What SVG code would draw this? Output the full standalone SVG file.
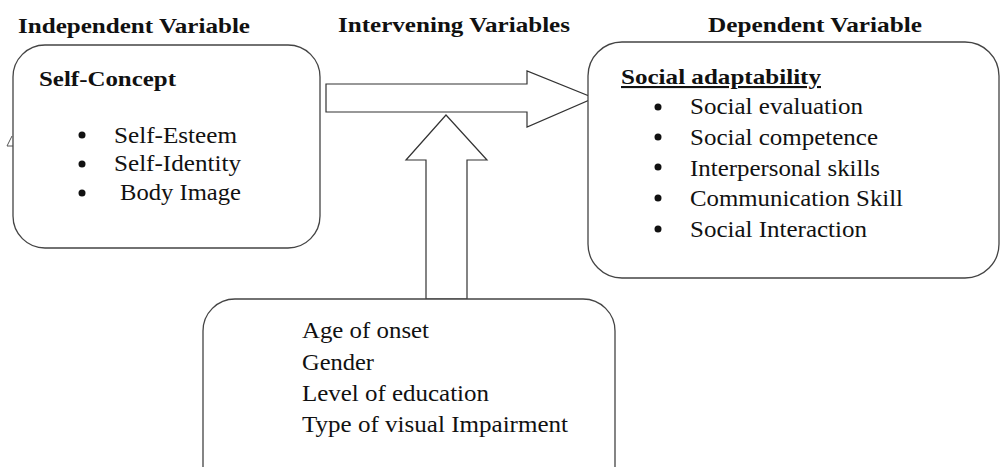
<svg xmlns="http://www.w3.org/2000/svg" width="1000" height="467" viewBox="0 0 1000 467">
<style>
.box{fill:#fff;stroke:#444;stroke-width:1.3}
.arr{fill:#fff;stroke:#333;stroke-width:1.2;stroke-linejoin:miter}
.h{font-family:"Liberation Serif",serif;font-weight:bold;font-size:21px;fill:#111}
.t{font-family:"Liberation Serif",serif;font-size:23px;fill:#111}
.b{fill:#111}
</style>
<rect width="1000" height="467" fill="#fff"/>
<g id="headers">
<text class="h" x="18" y="33" textLength="232" lengthAdjust="spacingAndGlyphs">Independent Variable</text>
<text class="h" x="338" y="32" textLength="232" lengthAdjust="spacingAndGlyphs">Intervening Variables</text>
<text class="h" x="708" y="32" textLength="214" lengthAdjust="spacingAndGlyphs">Dependent Variable</text>
</g>
<polyline points="12,136 7,146 13,146" fill="none" stroke="#555" stroke-width="1"/>
<g id="connectors">
<polygon class="arr" points="326,84 527,84 527,71 594,98 527,127 527,112 326,112"/>
<polygon class="arr" points="446,115 487,160 467,160 467,299 426,299 426,160 406,160"/>
</g>
<g id="independent">
<rect class="box" x="13" y="45" width="307" height="203" rx="32"/>
<text class="h" x="39" y="86" font-size="22" textLength="137" lengthAdjust="spacingAndGlyphs">Self-Concept</text>
<circle class="b" cx="82" cy="135" r="3.5"/>
<circle class="b" cx="82" cy="164" r="3.5"/>
<circle class="b" cx="82" cy="193" r="3.5"/>
<text class="t" x="114" y="143" textLength="123" lengthAdjust="spacingAndGlyphs">Self-Esteem</text>
<text class="t" x="114" y="171" textLength="127" lengthAdjust="spacingAndGlyphs">Self-Identity</text>
<text class="t" x="120" y="200" textLength="121" lengthAdjust="spacingAndGlyphs">Body Image</text>
</g>
<g id="dependent">
<rect class="box" x="588" y="42" width="411" height="236" rx="34"/>
<text class="h" x="621" y="84" font-size="22" text-decoration="underline" textLength="200" lengthAdjust="spacingAndGlyphs">Social adaptability</text>
<circle class="b" cx="658" cy="107" r="3.5"/>
<circle class="b" cx="658" cy="137" r="3.5"/>
<circle class="b" cx="658" cy="167" r="3.5"/>
<circle class="b" cx="658" cy="198" r="3.5"/>
<circle class="b" cx="658" cy="229" r="3.5"/>
<text class="t" x="690" y="114" textLength="173" lengthAdjust="spacingAndGlyphs">Social evaluation</text>
<text class="t" x="690" y="145" textLength="188" lengthAdjust="spacingAndGlyphs">Social competence</text>
<text class="t" x="690" y="176" textLength="190" lengthAdjust="spacingAndGlyphs">Interpersonal skills</text>
<text class="t" x="690" y="206" textLength="213" lengthAdjust="spacingAndGlyphs">Communication Skill</text>
<text class="t" x="690" y="237" textLength="177" lengthAdjust="spacingAndGlyphs">Social Interaction</text>
</g>
<g id="intervening">
<rect class="box" x="203" y="299" width="412" height="200" rx="32"/>
<text class="t" x="302" y="338" textLength="127" lengthAdjust="spacingAndGlyphs">Age of onset</text>
<text class="t" x="302" y="370" textLength="72" lengthAdjust="spacingAndGlyphs">Gender</text>
<text class="t" x="302" y="401" textLength="187" lengthAdjust="spacingAndGlyphs">Level of education</text>
<text class="t" x="302" y="432" textLength="266" lengthAdjust="spacingAndGlyphs">Type of visual Impairment</text>
</g>
</svg>
